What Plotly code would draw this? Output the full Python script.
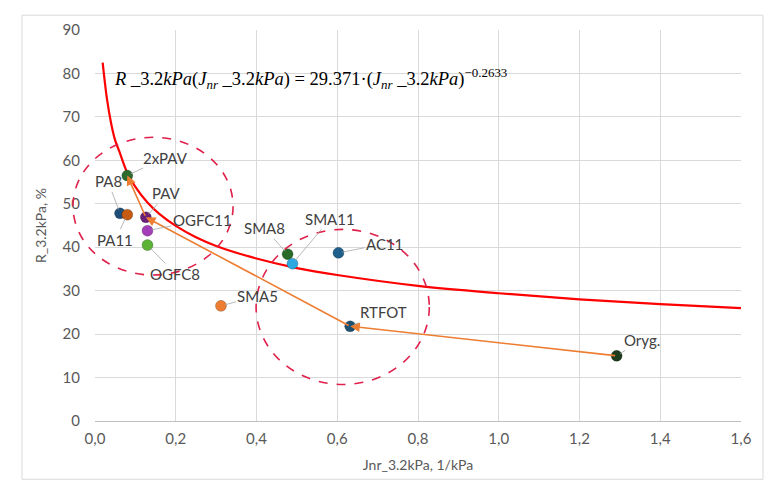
import plotly.graph_objects as go

# ---- data ----
names = ["2xPAV", "PA8", "PA11", "PAV", "OGFC11", "OGFC8",
         "SMA5", "SMA8", "SMA11", "AC11", "RTFOT", "Oryg."]
jnr = [0.080, 0.062, 0.080, 0.126, 0.130, 0.130,
       0.312, 0.477, 0.489, 0.603, 0.632, 1.292]
r_val = [56.5, 47.8, 47.5, 46.9, 43.8, 40.5,
         26.5, 38.4, 36.2, 38.7, 21.8, 15.0]
colors = ["#2E6B2E", "#1F4E79", "#C55A11", "#6A1F7A", "#A33DB8", "#5CB335",
          "#ED7D31", "#2A6B2A", "#2EA8E0", "#1F5F8B", "#1F5070", "#1E3D1E"]
# label offsets (pixels) for leader lines
lab_dx = [38, -12, -12, 21, 55, 28, 37, -23, 38, 46, 33, 25]
lab_dy = [-18, -32, 25, -24, -11, 29, -10, -26, -45, -9, -14, -16]

# power trend line points
trend_x = [0.019, 0.03, 0.04, 0.05, 0.06, 0.08, 0.10, 0.13, 0.16, 0.20, 0.25,
           0.30, 0.40, 0.50, 0.60, 0.80, 1.00, 1.20, 1.40, 1.60]
trend_y = [82.5, 73.9, 68.5, 64.6, 62.1, 57.1, 53.9, 50.3, 47.6, 44.9, 42.3,
           40.3, 37.4, 35.2, 33.6, 31.1, 29.4, 28.0, 26.9, 26.0]

# ageing path (tail -> head)
path = ["Oryg.", "RTFOT", "PAV", "2xPAV"]

# dashed ellipses (data coords): x0, x1, y0, y1
ellipses = [(-0.0545, 0.342, 33.6, 65.3), (0.399, 0.828, 8.4, 44.1)]

x_range = [0, 1.6]
y_range = [0, 90]
x_ticks = [0, 0.2, 0.4, 0.6, 0.8, 1.0, 1.2, 1.4, 1.6]
x_ticktext = ["0,0", "0,2", "0,4", "0,6", "0,8", "1,0", "1,2", "1,4", "1,6"]
y_ticks = list(range(0, 91, 10))

FONT = "Lato"
GRAY = "#595959"

fig = go.Figure()

fig.add_trace(go.Scatter(x=trend_x, y=trend_y, mode="lines",
                         line=dict(color="#FF0000", width=2.2, shape="spline"),
                         hoverinfo="skip", showlegend=False))

for n, xv, yv, c in zip(names, jnr, r_val, colors):
    fig.add_trace(go.Scatter(x=[xv], y=[yv], mode="markers", name=n,
                             marker=dict(size=11, color=c,
                                         line=dict(width=0.6, color="rgba(0,0,0,0.35)")),
                             showlegend=False))

annotations = []
# orange arrows
idx = {n: i for i, n in enumerate(names)}
for a, b in zip(path[:-1], path[1:]):
    ia, ib = idx[a], idx[b]
    annotations.append(dict(x=jnr[ib], y=r_val[ib], ax=jnr[ia], ay=r_val[ia],
                            xref="x", yref="y", axref="x", ayref="y",
                            text="", showarrow=True, arrowhead=2, arrowsize=1.2,
                            arrowwidth=1.6, arrowcolor="#ED7D31", standoff=0))
# labels with leader lines
for n, xv, yv, dx, dy in zip(names, jnr, r_val, lab_dx, lab_dy):
    annotations.append(dict(x=xv, y=yv, ax=dx, ay=dy, text=n, showarrow=True,
                            arrowhead=0, arrowwidth=0.8, arrowcolor="#A6A6A6",
                            standoff=4, font=dict(family=FONT, size=15, color="#404040")))
# formula
annotations.append(dict(
    x=0.042, y=78.8, xref="x", yref="y", xanchor="left", yanchor="middle",
    showarrow=False,
    text=("<i>R</i> _3.2<i>kPa</i>(<i>J<sub>nr</sub></i> _3.2<i>kPa</i>) = 29.371·"
          "(<i>J<sub>nr</sub></i> _3.2<i>kPa</i>)<sup>−0.2633</sup>"),
    font=dict(family="Liberation Serif", size=18.5, color="#000000")))

shapes = []
for x0, x1, y0, y1 in ellipses:
    px0 = (x0 - x_range[0]) / (x_range[1] - x_range[0])
    px1 = (x1 - x_range[0]) / (x_range[1] - x_range[0])
    py0 = (y0 - y_range[0]) / (y_range[1] - y_range[0])
    py1 = (y1 - y_range[0]) / (y_range[1] - y_range[0])
    shapes.append(dict(type="circle", xref="paper", yref="paper",
                       x0=px0, x1=px1, y0=py0, y1=py1,
                       line=dict(color="#E0204A", width=1.6, dash="dash")))
# outer chart border
shapes.append(dict(type="rect", xref="paper", yref="paper",
                   x0=-73 / 646, x1=(763 - 95) / 646, y0=-59 / 396, y1=(421 - 10) / 396,
                   line=dict(color="#D9D9D9", width=1), layer="below"))

# page body has an 8px default margin -> figure is 766x477 placed at (8,8)
fig.update_layout(
    width=766, height=477,
    margin=dict(l=87, r=33, t=17, b=64),
    paper_bgcolor="white", plot_bgcolor="white",
    showlegend=False,
    annotations=annotations, shapes=shapes,
    font=dict(family=FONT, color=GRAY),
)
fig.update_xaxes(range=x_range, tickvals=x_ticks, ticktext=x_ticktext,
                 showgrid=True, gridcolor="#D9D9D9", gridwidth=1,
                 zeroline=False, showline=True, linecolor="#BFBFBF",
                 ticks="", ticklabelstandoff=4,
                 tickfont=dict(family=FONT, size=15, color=GRAY),
                 title=dict(text="Jnr_3.2kPa, 1/kPa", standoff=14,
                            font=dict(family=FONT, size=14, color=GRAY)))
fig.update_yaxes(range=y_range, tickvals=y_ticks,
                 showgrid=True, gridcolor="#D9D9D9", gridwidth=1,
                 zeroline=False, showline=False,
                 ticks="", ticklabelstandoff=14,
                 tickfont=dict(family=FONT, size=15, color=GRAY),
                 title=dict(text="R_3.2kPa, %", standoff=12,
                            font=dict(family=FONT, size=14, color=GRAY)))

fig.write_html("out.html")
